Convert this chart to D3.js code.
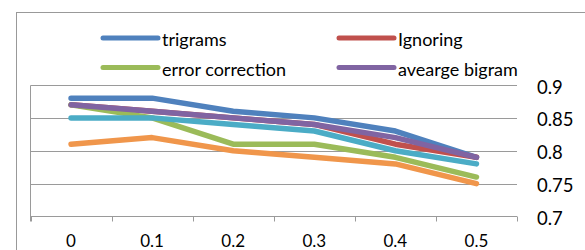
<!DOCTYPE html>
<html>
<head>
	<title>Error rate chart</title>
	<script src="https://cdn.jsdelivr.net/npm/d3@7"></script>
	<style>
	body{ margin:0; background:#fff; }
	text{ font-family: Lato, "Open Sans", sans-serif; fill:#000; }
	</style>
</head>
<body>
</body>
	<script>
// data
var categories = ["0", "0.1", "0.2", "0.3", "0.4", "0.5"];
var yTicks = [0.7, 0.75, 0.8, 0.85, 0.9];

var trigrams        = [0.88, 0.88, 0.86, 0.85, 0.83, 0.79];
var ignoring        = [0.87, 0.86, 0.85, 0.84, 0.81, 0.79];
var errorCorrection = [0.87, 0.85, 0.81, 0.81, 0.79, 0.76];
var avgBigram       = [0.87, 0.86, 0.85, 0.84, 0.82, 0.79];
var series5         = [0.85, 0.85, 0.84, 0.83, 0.80, 0.78];
var series6         = [0.81, 0.82, 0.80, 0.79, 0.78, 0.75];

var seriesNames = ["trigrams", "Ignoring", "error correction", "avearge bigram", "", ""];
var seriesValues = [trigrams, ignoring, errorCorrection, avgBigram, series5, series6];
var colors = ["#4F81BD", "#C0504D", "#9BBB59", "#8064A2", "#4BACC6", "#F0964B"];

// window size
var width = 585,
    height = 250;

var plot = {left: 30.5, right: 517, top: 85, bottom: 216.5};

var svg = d3.select("body").append("svg")
	.attr("width", width)
	.attr("height", height);

// outer frame (runs off the picture)
svg.append("rect")
	.attr("x", 16.5)
	.attr("y", 12.5)
	.attr("width", 700)
	.attr("height", 400)
	.attr("fill", "none")
	.attr("stroke", "#999");

var x = d3.scaleBand()
	.domain(categories)
	.range([plot.left, plot.right])
	.padding(0);

var y = d3.scaleLinear()
	.domain([0.7, 0.9])
	.range([plot.bottom, plot.top]);

// gridlines
svg.selectAll("line.grid")
	.data(yTicks.slice(1))
	.enter().append("line")
	.attr("class", "grid")
	.attr("x1", plot.left)
	.attr("x2", plot.right)
	.attr("y1", function(d){ return Math.round(y(d)) + 0.5; })
	.attr("y2", function(d){ return Math.round(y(d)) + 0.5; })
	.attr("stroke", "#9a9a9a")
	.attr("stroke-width", 1);

// left axis line
svg.append("line")
	.attr("x1", plot.left).attr("x2", plot.left)
	.attr("y1", Math.round(y(0.9)) + 0.5).attr("y2", plot.bottom + 5)
	.attr("stroke", "#9a9a9a");

// bottom axis with ticks between categories
var xAxis = d3.axisBottom(x).tickSize(0).tickPadding(0).tickFormat("");
var gx = svg.append("g")
	.attr("transform", "translate(0," + plot.bottom + ")")
	.call(xAxis);
gx.select(".domain").attr("stroke", "#9a9a9a").attr("d", "M" + plot.left + ",0H" + plot.right);

var bounds = categories.map(function(c){ return x(c); }).concat([plot.right]);
gx.selectAll("line.sep")
	.data(bounds)
	.enter().append("line")
	.attr("class", "sep")
	.attr("x1", function(d){ return Math.round(d) + 0.5; })
	.attr("x2", function(d){ return Math.round(d) + 0.5; })
	.attr("y1", 0)
	.attr("y2", 5)
	.attr("stroke", "#9a9a9a");

svg.selectAll("text.xlab")
	.data(categories)
	.enter().append("text")
	.attr("class", "xlab")
	.attr("x", function(d){ return x(d) + x.bandwidth() / 2; })
	.attr("y", 247)
	.attr("text-anchor", "middle")
	.attr("font-size", "17px")
	.text(function(d){ return d; });

// right side value labels
svg.selectAll("text.ylab")
	.data(yTicks)
	.enter().append("text")
	.attr("class", "ylab")
	.attr("x", 537)
	.attr("y", function(d){ return y(d) + 8.5; })
	.attr("font-size", "18.5px")
	.text(function(d){ return d; });

// lines
var line = d3.line()
	.x(function(d, i){ return x(categories[i]) + x.bandwidth() / 2; })
	.y(function(d){ return y(d); });

svg.selectAll("path.series")
	.data(seriesValues)
	.enter().append("path")
	.attr("class", "series")
	.attr("d", line)
	.attr("fill", "none")
	.attr("stroke", function(d, i){ return colors[i]; })
	.attr("stroke-width", 5.5)
	.attr("stroke-linecap", "round")
	.attr("stroke-linejoin", "round");

// legend, two columns, only the named series
var legendData = seriesNames.map(function(n, i){ return {name: n, color: colors[i], idx: i}; })
	.filter(function(d){ return d.name != ""; });

var legend = svg.selectAll("g.legend")
	.data(legendData)
	.enter().append("g")
	.attr("class", "legend")
	.attr("transform", function(d){
		var col = d.idx % 2, row = Math.floor(d.idx / 2);
		return "translate(" + (103 + col * 236) + "," + (38 + row * 29.5) + ")";
	});

legend.append("line")
	.attr("x1", 0).attr("x2", 55)
	.attr("y1", 0).attr("y2", 0)
	.attr("stroke", function(d){ return d.color; })
	.attr("stroke-width", 5)
	.attr("stroke-linecap", "round");

legend.append("text")
	.attr("x", 59)
	.attr("y", 8)
	.attr("font-size", "18px")
	.text(function(d){ return d.name; });

	</script>
</html>
